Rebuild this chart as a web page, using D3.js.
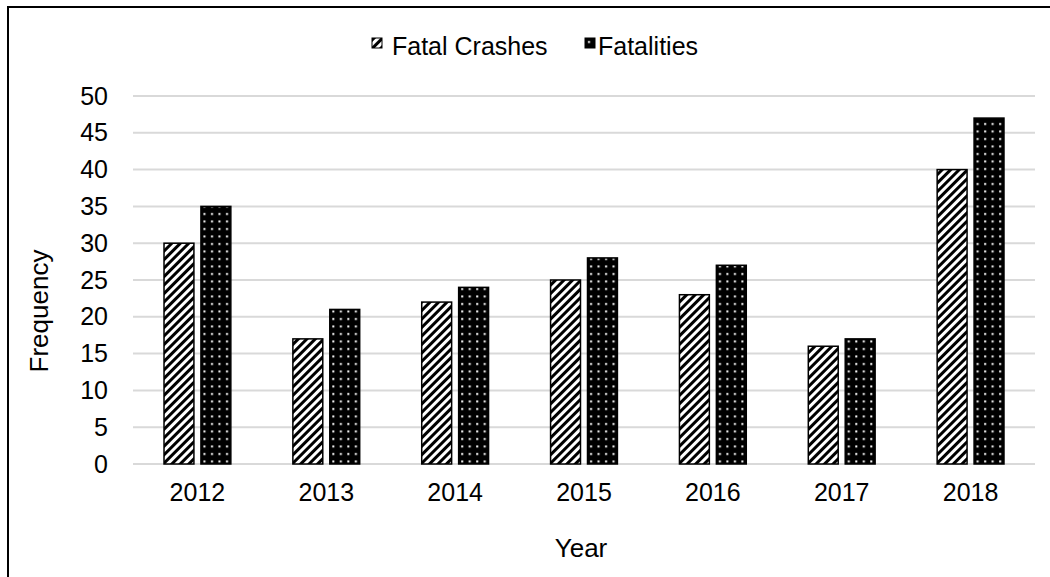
<!DOCTYPE html>
<html>
<head>
<meta charset="utf-8">
<script src="https://cdn.jsdelivr.net/npm/d3@7"></script>
<style>
  body { margin: 0; background: #fff; }
  text { font-family: "Liberation Sans", Arial, sans-serif; fill: #000; }
</style>
</head>
<body>
<div id="chart"></div>
<script>
var years = ["2012", "2013", "2014", "2015", "2016", "2017", "2018"];
var fatalCrashes = [30, 17, 22, 25, 23, 16, 40];
var fatalities = [35, 21, 24, 28, 27, 17, 47];
var seriesNames = ["Fatal Crashes", "Fatalities"];
var yTicks = [0, 5, 10, 15, 20, 25, 30, 35, 40, 45, 50];

var width = 1050, height = 577;
var margin = {left: 133, right: 15, top: 96, bottom: 113};

var svg = d3.select("#chart").append("svg")
    .attr("width", width)
    .attr("height", height);

// patterns
var defs = svg.append("defs");
var stripes = defs.append("pattern")
    .attr("id", "stripes")
    .attr("patternUnits", "userSpaceOnUse")
    .attr("width", 6).attr("height", 6)
    .attr("patternTransform", "rotate(45)");
stripes.append("rect").attr("width", 6).attr("height", 6).attr("fill", "#fff");
stripes.append("rect").attr("width", 3).attr("height", 6).attr("fill", "#000");

var dots = defs.append("pattern")
    .attr("id", "dots")
    .attr("patternUnits", "userSpaceOnUse")
    .attr("width", 7.5).attr("height", 7.5);
dots.append("rect").attr("width", 7.5).attr("height", 7.5).attr("fill", "#000");
dots.append("rect").attr("x", 3).attr("y", 3).attr("width", 2).attr("height", 2).attr("fill", "#fff");

var fills = ["url(#stripes)", "url(#dots)"];

// outer frame (only left and top visible)
svg.append("path")
    .attr("d", "M8," + height + "V7H" + width)
    .attr("fill", "none")
    .attr("stroke", "#000")
    .attr("stroke-width", 2);

var x = d3.scaleBand()
    .domain(years)
    .range([margin.left, width - margin.right]);

var x1 = d3.scaleBand()
    .domain(seriesNames)
    .range([0, x.bandwidth()])
    .paddingInner(0.19)
    .paddingOuter(0.84);

var y = d3.scaleLinear()
    .domain([0, 50])
    .range([height - margin.bottom, margin.top]);

// gridlines
svg.append("g").selectAll("line")
    .data(yTicks)
    .enter().append("line")
    .attr("x1", margin.left)
    .attr("x2", width - margin.right)
    .attr("y1", function(d) { return y(d); })
    .attr("y2", function(d) { return y(d); })
    .attr("stroke", "#d9d9d9")
    .attr("stroke-width", 2);

// y axis labels
var yAxis = svg.append("g")
    .attr("transform", "translate(" + (margin.left - 25) + ",0)")
    .call(d3.axisLeft(y).tickValues(yTicks).tickSize(0).tickPadding(0));
yAxis.select(".domain").remove();
yAxis.selectAll("text")
    .attr("font-size", 25)
    .style("font-family", "Liberation Sans, Arial, sans-serif");

// x axis labels
var xAxis = svg.append("g")
    .attr("transform", "translate(0," + (height - margin.bottom) + ")")
    .call(d3.axisBottom(x).tickSize(0).tickPadding(19));
xAxis.select(".domain").remove();
xAxis.selectAll("text")
    .attr("font-size", 25)
    .style("font-family", "Liberation Sans, Arial, sans-serif");

// bars
var rows = years.map(function(yr, i) {
    return {year: yr, values: [fatalCrashes[i], fatalities[i]]};
});

var group = svg.append("g").selectAll("g")
    .data(rows)
    .enter().append("g")
    .attr("transform", function(d) { return "translate(" + x(d.year) + ",0)"; });

group.selectAll("rect")
    .data(function(d) { return d.values.map(function(v, j) { return {name: seriesNames[j], value: v, idx: j}; }); })
    .enter().append("rect")
    .attr("x", function(d) { return x1(d.name); })
    .attr("width", x1.bandwidth())
    .attr("y", function(d) { return y(d.value); })
    .attr("height", function(d) { return y(0) - y(d.value); })
    .attr("fill", function(d) { return fills[d.idx]; })
    .attr("stroke", "#000")
    .attr("stroke-width", 1.5);

// axis titles
svg.append("text")
    .attr("transform", "translate(48,311) rotate(-90)")
    .attr("text-anchor", "middle")
    .attr("font-size", 26)
    .text("Frequency");

svg.append("text")
    .attr("x", 581)
    .attr("y", 557)
    .attr("text-anchor", "middle")
    .attr("font-size", 26)
    .text("Year");

// legend
var legendX = [372, 585];
var legendTextX = [20, 13];
var legend = svg.append("g").selectAll("g")
    .data(seriesNames)
    .enter().append("g")
    .attr("transform", function(d, i) { return "translate(" + legendX[i] + ",38)"; });
legend.append("rect")
    .attr("width", 10).attr("height", 10)
    .attr("fill", function(d, i) { return fills[i]; })
    .attr("stroke", "#000")
    .attr("stroke-width", 1);
legend.append("text")
    .attr("x", function(d, i) { return legendTextX[i]; })
    .attr("y", 17)
    .attr("font-size", 25)
    .text(function(d) { return d; });
</script>
</body>
</html>
